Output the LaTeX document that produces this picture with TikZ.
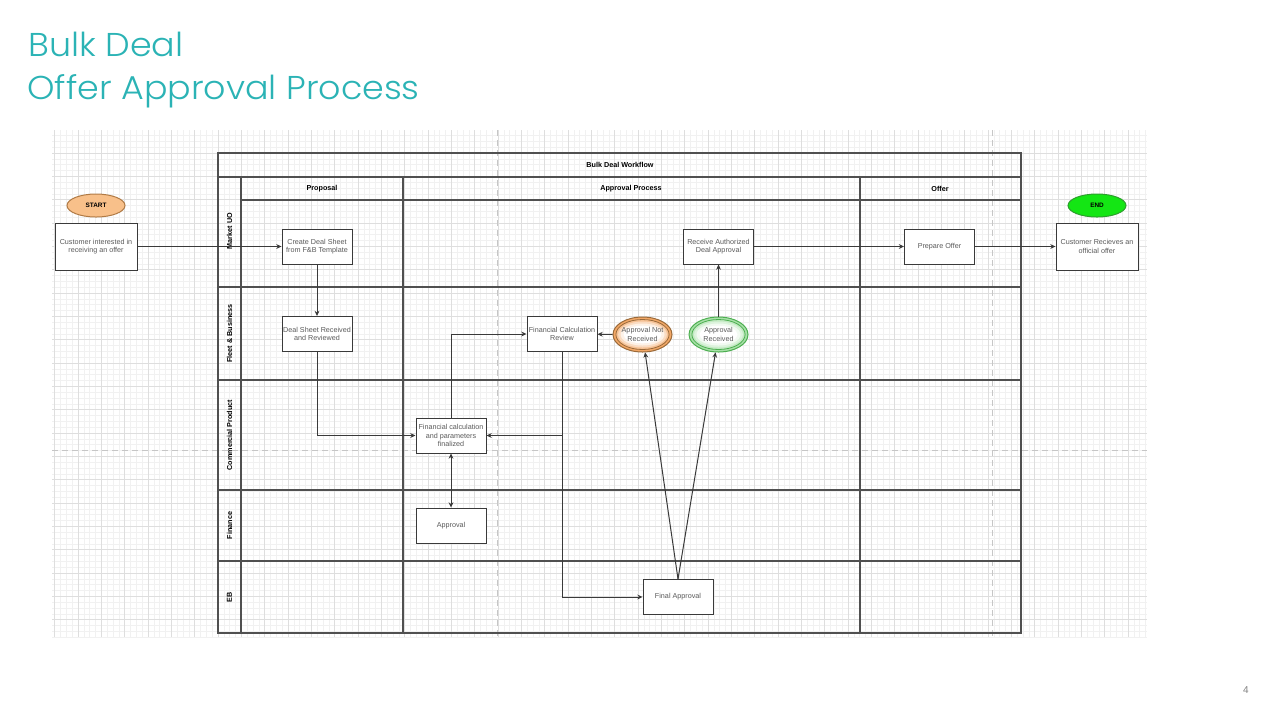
\documentclass[tikz,border=0pt]{standalone}
\usepackage{fontspec}
\setmainfont{Liberation Sans}
\newfontfamily\titlefont{Poppins Light}[FakeStretch=1.057]
\usetikzlibrary{arrows.meta,shapes.geometric,calc}
\definecolor{titlecol}{HTML}{2BB3B5}
\definecolor{gminorc}{HTML}{F1F1F1}
\definecolor{gmajorc}{HTML}{DEDEDE}
\definecolor{poolc}{HTML}{505050}
\definecolor{boxline}{HTML}{3A3A3A}
\definecolor{boxtext}{HTML}{5A5A5A}
\definecolor{startfill}{HTML}{F8C08A}
\definecolor{startline}{HTML}{B07A45}
\definecolor{endfill}{HTML}{14E614}
\definecolor{endline}{HTML}{2E9E2E}
\definecolor{anrcol}{HTML}{F2A766}
\definecolor{anrline}{HTML}{9A6A3A}
\definecolor{arcol}{HTML}{A8E0A8}
\definecolor{arline}{HTML}{4CAF50}
\tikzset{
  gminor/.style={draw=gminorc, line width=0.3pt},
  gmajor/.style={draw=gmajorc, line width=0.4pt},
  pagebreak/.style={draw=gray!45, line width=0.5pt, dash pattern=on 3pt off 2pt},
  pool/.style={draw=poolc, line width=0.55pt},
  hdr/.style={font=\bfseries\fontsize{3.6pt}{4.3pt}\selectfont, text=black, inner sep=0pt},
  lane/.style={font=\bfseries\fontsize{3.6pt}{4.3pt}\selectfont, text=black, inner sep=0pt, rotate=90},
  box/.style={draw=boxline, line width=0.5pt, fill=white, minimum width=35pt, minimum height=17.5pt, inner sep=0pt, align=center, font=\fontsize{3.6pt}{4.3pt}\selectfont, text=boxtext},
  bigbox/.style={box, minimum width=41pt, minimum height=23.5pt},
  term/.style={ellipse, minimum width=29pt, minimum height=11.5pt, inner sep=0pt, line width=0.5pt, font=\bfseries\fontsize{3.2pt}{4pt}\selectfont, text=black},
  decis/.style={ellipse, minimum width=29.5pt, minimum height=17.5pt, inner sep=0pt, line width=0.5pt, align=center, font=\fontsize{3.6pt}{4.3pt}\selectfont, text=boxtext},
  arr/.style={draw=boxline, line width=0.5pt, -{Stealth[length=2.6pt,width=2.4pt]}},
  darr/.style={draw=boxline, line width=0.5pt, {Stealth[length=2.6pt,width=2.4pt]}-{Stealth[length=2.6pt,width=2.4pt]}}
}
\begin{document}
\begin{tikzpicture}[x=0.5pt,y=-0.5pt]
\useasboundingbox (0,0) rectangle (1280,720);
% title
\node[anchor=base west, inner sep=0pt, font=\titlefont\fontsize{16.5pt}{20pt}\selectfont, text=titlecol] (t1) at (28,56) {Bulk Deal};
\node[anchor=base west, inner sep=0pt, font=\titlefont\fontsize{16.5pt}{20pt}\selectfont, text=titlecol] (t2) at (27,99) {Offer Approval Process};
\node[font=\fontsize{5pt}{6pt}\selectfont, text=gray, inner sep=0pt] (pg) at (1246,690) {4};
% grid
\begin{scope}
\clip (52,130) rectangle (1147,637);
\foreach \i in {-28,...,159} {\draw[gminor] ({218+\i*5.8333},130) -- ({218+\i*5.8333},637);}
\foreach \j in {-3,...,83} {\draw[gminor] (52,{153+\j*5.8333}) -- (1147,{153+\j*5.8333});}
\foreach \i in {-7,...,39} {\draw[gmajor] ({218+\i*23.3333},130) -- ({218+\i*23.3333},637);}
\foreach \j in {0,...,20} {\draw[gmajor] (52,{153+\j*23.3333}) -- (1147,{153+\j*23.3333});}
\end{scope}
\draw[pagebreak] (497,130) -- (497,637);
\draw[pagebreak] (992,130) -- (992,637);
\draw[pagebreak] (52,450) -- (1147,450);
% pool
\draw[pool] (218,153) rectangle (1021,633);
\draw[pool] (218,177) -- (1021,177);
\draw[pool] (241,177) -- (241,633);
\draw[pool] (241,200) -- (1021,200);
\draw[pool] (403,177) -- (403,633);
\draw[pool] (860,177) -- (860,633);
\draw[pool] (218,287) -- (1021,287);
\draw[pool] (218,380) -- (1021,380);
\draw[pool] (218,490) -- (1021,490);
\draw[pool] (218,561) -- (1021,561);
\node[hdr] (hpool) at (620,165) {Bulk Deal Workflow};
\node[hdr] (hprop) at (322,188.5) {Proposal};
\node[hdr] (happ) at (631,188.5) {Approval Process};
\node[hdr] (hoff) at (940,188.5) {Offer};
\node[lane] (l1) at (229.5,231) {Market UO};
\node[lane] (l2) at (229.5,333.5) {Fleet \& Business};
\node[lane] (l3) at (229.5,435) {Commercial Product};
\node[lane] (l4) at (229.5,525.5) {Finance};
\node[lane] (l5) at (229.5,597) {EB};
% decision ellipse backgrounds (ring gradient)
\fill[anrcol] (642.5,334.5) ellipse [x radius=14.75pt, y radius=8.75pt];
\fill[anrcol!70!white] (642.5,334.5) ellipse [x radius=13.3pt, y radius=7.5pt];
\fill[anrcol!40!white] (642.5,334.5) ellipse [x radius=12.2pt, y radius=6.5pt];
\fill[anrcol!15!white] (642.5,334.5) ellipse [x radius=11pt, y radius=5.5pt];
\fill[white] (642.5,334.5) ellipse [x radius=9.5pt, y radius=4.4pt];
\fill[arcol] (718.5,334.5) ellipse [x radius=14.75pt, y radius=8.75pt];
\fill[arcol!70!white] (718.5,334.5) ellipse [x radius=13.3pt, y radius=7.5pt];
\fill[arcol!40!white] (718.5,334.5) ellipse [x radius=12.2pt, y radius=6.5pt];
\fill[arcol!15!white] (718.5,334.5) ellipse [x radius=11pt, y radius=5.5pt];
\fill[white] (718.5,334.5) ellipse [x radius=9.5pt, y radius=4.4pt];
% nodes
\node[term, draw=startline, fill=startfill] (start) at (96,205.5) {START};
\node[term, draw=endline, fill=endfill] (endn) at (1097,205.5) {END};
\node[bigbox] (cust) at (96,246.5) {Customer interested in\\receiving an offer};
\node[bigbox] (custrec) at (1097,246.5) {Customer Recieves an\\official offer};
\node[box] (create) at (317,246.5) {Create Deal Sheet\\from F\&B Template};
\node[box] (recvauth) at (718.5,246.5) {Receive Authorized\\Deal Approval};
\node[box] (prep) at (939.5,246.5) {Prepare Offer};
\node[box] (dsr) at (317,334) {Deal Sheet Received\\and Reviewed};
\node[box] (fcr) at (562,334) {Financial Calculation\\Review};
\node[decis, draw=anrline] (anr) at (642.5,334.5) {Approval Not\\Received};
\draw[anrline, line width=0.4pt] (anr.center) ellipse [x radius=13.3pt, y radius=7.5pt];
\node[decis, draw=arline] (ar) at (718.5,334.5) {Approval\\Received};
\draw[arline, line width=0.4pt] (ar.center) ellipse [x radius=13.3pt, y radius=7.5pt];
\node[box] (fcf) at (451,435.5) {Financial calculation\\and parameters\\finalized};
\node[box] (appr) at (451,525.5) {Approval};
\node[box] (final) at (678,597) {Final Approval};
% connectors
\draw[arr] (cust) -- (create);
\draw[arr] (create) -- (dsr);
\draw[arr] (dsr.south) |- (fcf.west);
\draw[arr] (fcf.north) |- (fcr.west);
\draw[arr] (fcr.south) |- (fcf.east);
\draw[arr] (fcr.south) |- (final.west);
\draw[darr] (fcf) -- (appr);
\draw[arr] (final.north) -- (anr);
\draw[arr] (final.north) -- (ar);
\draw[arr] (anr) -- (fcr);
\draw[arr] (ar) -- (recvauth);
\draw[arr] (recvauth) -- (prep);
\draw[arr] (prep) -- (custrec);
\end{tikzpicture}
\end{document}
